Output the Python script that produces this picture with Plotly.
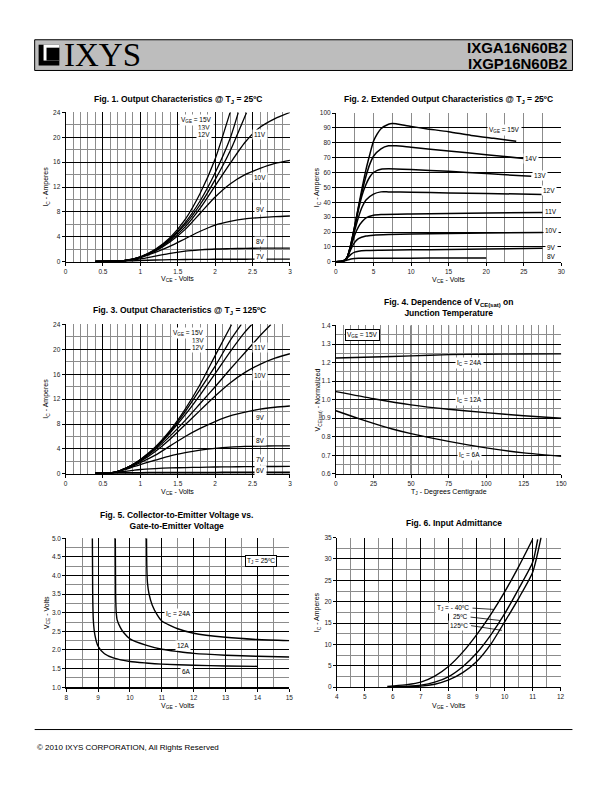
import plotly.graph_objects as go

# ---------------- DATA ----------------
# Fig.1 Output characteristics @ Tj=25C  (VCE volts -> IC amps)
F1_X = [0.4, 0.8, 1.0, 1.2, 1.4, 1.6, 1.8, 2.0, 2.2, 2.4, 2.6, 2.8, 3.0]
F1_15V_X = [0.4, 0.8, 1.0, 1.2, 1.4, 1.6, 1.8, 2.0, 2.2]
F1_15V_Y = [0.05, 0.2, 0.8, 2.0, 3.9, 6.8, 11.0, 16.5, 24.0]
F1_13V_X = [0.4, 0.8, 1.0, 1.2, 1.4, 1.6, 1.8, 2.0, 2.2, 2.31]
F1_13V_Y = [0.05, 0.2, 0.78, 1.9, 3.7, 6.3, 9.8, 14.3, 19.8, 24.0]
F1_12V_X = [0.4, 0.8, 1.0, 1.2, 1.4, 1.6, 1.8, 2.0, 2.2, 2.42]
F1_12V_Y = [0.05, 0.2, 0.76, 1.85, 3.6, 6.0, 9.2, 13.2, 17.8, 24.0]
F1_11V_Y = [0.05, 0.2, 0.75, 1.8, 3.4, 5.6, 8.6, 12.2, 15.8, 19.2, 21.6, 23.0, 24.0]
F1_10V_Y = [0.05, 0.2, 0.72, 1.7, 3.2, 5.2, 7.8, 10.4, 12.5, 14.0, 15.0, 15.8, 16.3]
F1_9V_Y = [0.05, 0.2, 0.68, 1.5, 2.5, 3.7, 4.9, 5.9, 6.5, 6.9, 7.1, 7.25, 7.35]
F1_8V_Y = [0.05, 0.15, 0.45, 0.9, 1.35, 1.7, 1.9, 2.05, 2.1, 2.15, 2.18, 2.2, 2.2]
F1_7V_Y = [0.05, 0.1, 0.2, 0.28, 0.33, 0.36, 0.38, 0.4, 0.4, 0.4, 0.42, 0.42, 0.42]

# Fig.2 Extended output characteristics @ Tj=25C
F2_15V_X = [0, 1, 1.5, 2, 2.5, 3, 3.5, 4, 4.5, 5, 5.5, 6, 7, 7.5, 8, 10, 12, 15, 18, 21, 24]
F2_15V_Y = [0, 0.5, 3, 12, 24, 37, 50, 62, 72, 81, 86, 89.5, 92.5, 93, 92.8, 91, 89.5, 87.5, 85, 83, 81]
F2_14V_X = [0, 1, 1.5, 2, 2.5, 3, 3.5, 4, 4.5, 5, 6, 7, 8, 10, 15, 20, 25]
F2_14V_Y = [0, 0.5, 3, 12, 24, 36.5, 47.5, 57.5, 65.5, 71, 76, 78, 78, 77, 74.5, 72, 69.5]
F2_13V_X = [0, 1, 1.5, 2, 2.5, 3, 3.5, 4, 4.5, 5, 5.5, 6, 7, 10, 15, 20, 26]
F2_13V_Y = [0, 0.5, 3, 11.5, 23, 35, 45, 52, 57, 60, 61.5, 62.3, 62.5, 62, 60.8, 59.3, 57.5]
F2_12V_X = [0, 1, 1.5, 2, 2.5, 3, 3.5, 4, 5, 6, 7, 10, 15, 20, 27.5]
F2_12V_Y = [0, 0.5, 3, 11, 21, 30, 37, 41.5, 45.5, 47, 47, 46.8, 46.3, 45.9, 45.3]
F2_11V_X = [0, 1, 1.5, 2, 2.5, 3, 3.5, 4, 5, 6, 10, 15, 20, 27.5]
F2_11V_Y = [0, 0.5, 3, 10, 18, 23.5, 27, 29.5, 31.3, 31.8, 32.2, 32.5, 32.8, 33.2]
F2_10V_X = [0, 1, 1.5, 2, 2.5, 3, 4, 5, 7, 10, 15, 20, 27.5]
F2_10V_Y = [0, 0.5, 3, 8.5, 13, 15.5, 17.3, 17.9, 18.3, 18.6, 19, 19.3, 19.7]
F2_9V_X = [0, 1, 1.5, 2, 2.5, 3, 4, 6, 10, 15, 20, 27.5]
F2_9V_Y = [0, 0.5, 2.5, 5, 6.5, 7.1, 7.5, 7.7, 8.0, 8.3, 8.6, 9.0]
F2_8V_X = [0, 1, 1.5, 2, 2.5, 3, 5, 10, 15, 20]
F2_8V_Y = [0, 0.3, 1.2, 1.9, 2.2, 2.3, 2.4, 2.4, 2.5, 2.5]

# Fig.3 Output characteristics @ Tj=125C
F3_X = [0.4, 0.6, 0.7, 0.8, 0.9, 1.0, 1.2, 1.4, 1.6, 1.8, 2.0, 2.2, 2.4, 2.6, 2.8, 3.0]
F3_15V_X = [0.4, 0.6, 0.7, 0.8, 0.9, 1.0, 1.2, 1.4, 1.6, 1.8, 2.0, 2.22]
F3_15V_Y = [0.1, 0.15, 0.4, 0.9, 1.5, 2.3, 4.3, 7.0, 10.4, 14.4, 19.0, 24.0]
F3_13V_X = [0.4, 0.6, 0.7, 0.8, 0.9, 1.0, 1.2, 1.4, 1.6, 1.8, 2.0, 2.2, 2.35]
F3_13V_Y = [0.1, 0.15, 0.4, 0.9, 1.5, 2.25, 4.2, 6.8, 10.0, 13.6, 17.3, 21.4, 24.0]
F3_12V_X = [0.4, 0.6, 0.7, 0.8, 0.9, 1.0, 1.2, 1.4, 1.6, 1.8, 2.0, 2.2, 2.4, 2.49]
F3_12V_Y = [0.1, 0.15, 0.4, 0.9, 1.5, 2.2, 4.1, 6.6, 9.5, 12.7, 16.1, 19.6, 22.8, 24.0]
F3_11V_X = [0.4, 0.6, 0.7, 0.8, 0.9, 1.0, 1.2, 1.4, 1.6, 1.8, 2.0, 2.2, 2.4, 2.6, 2.745]
F3_11V_Y = [0.1, 0.15, 0.4, 0.88, 1.45, 2.1, 3.9, 6.1, 8.6, 11.3, 14.0, 16.8, 19.5, 22.2, 24.0]
F3_10V_Y = [0.1, 0.15, 0.4, 0.85, 1.4, 2.0, 3.6, 5.6, 7.9, 10.2, 12.5, 14.6, 16.3, 17.6, 18.6, 19.3]
F3_9V_Y = [0.1, 0.15, 0.38, 0.8, 1.25, 1.8, 3.0, 4.5, 6.0, 7.3, 8.4, 9.3, 9.9, 10.4, 10.7, 10.9]
F3_8V_Y = [0.1, 0.15, 0.35, 0.7, 1.1, 1.5, 2.2, 2.9, 3.4, 3.8, 4.1, 4.3, 4.4, 4.45, 4.5, 4.5]
F3_7V_Y = [0.1, 0.15, 0.25, 0.4, 0.55, 0.7, 0.85, 0.95, 1.0, 1.05, 1.1, 1.12, 1.15, 1.17, 1.18, 1.2]
F3_6V_Y = [0.1, 0.1, 0.12, 0.13, 0.14, 0.15, 0.16, 0.17, 0.18, 0.18, 0.19, 0.2, 0.2, 0.2, 0.2, 0.2]

# Fig.4 VCE(sat) normalized vs junction temperature
F4_24A_X = [0, 25, 50, 75, 100, 125, 150]
F4_24A_Y = [1.225, 1.23, 1.236, 1.243, 1.245, 1.246, 1.247]
F4_12A_X = [0, 25, 50, 75, 100, 125, 150]
F4_12A_Y = [1.043, 1.005, 0.972, 0.948, 0.93, 0.913, 0.9]
F4_6A_X = [0, 12.5, 25, 37.5, 50, 75, 100, 125, 150]
F4_6A_Y = [0.94, 0.905, 0.872, 0.842, 0.817, 0.775, 0.74, 0.713, 0.695]

# Fig.5 VCE vs VGE
F5_24A_X = [10.52, 10.53, 10.55, 10.6, 10.7, 10.85, 11, 11.5, 12, 13, 14, 15]
F5_24A_Y = [5.0, 4.2, 3.8, 3.5, 3.2, 2.95, 2.78, 2.57, 2.45, 2.34, 2.28, 2.25]
F5_12A_X = [9.54, 9.55, 9.57, 9.6, 9.7, 9.8, 10, 10.5, 11, 11.5, 12, 13, 14, 15]
F5_12A_Y = [5.0, 3.5, 3.0, 2.8, 2.6, 2.47, 2.3, 2.13, 2.02, 1.96, 1.91, 1.86, 1.83, 1.81]
F5_6A_X = [8.82, 8.83, 8.85, 8.9, 9.0, 9.2, 9.5, 10, 10.5, 11, 12, 13, 14]
F5_6A_Y = [5.0, 3.5, 2.8, 2.4, 2.1, 1.9, 1.78, 1.69, 1.65, 1.62, 1.59, 1.57, 1.56]

# Fig.6 Input admittance
F6_M40_X = [5.8, 6, 6.5, 7, 7.5, 8, 8.5, 9, 9.5, 10, 10.5, 11]
F6_M40_Y = [0.2, 0.3, 0.6, 1.2, 2.6, 4.9, 8.2, 12.3, 17.0, 22.3, 28.2, 34.6]
F6_25_X = [6, 6.5, 7, 7.5, 8, 8.5, 9, 9.5, 10, 10.5, 11, 11.18]
F6_25_Y = [0.1, 0.25, 0.5, 1.2, 2.5, 4.8, 8.0, 12.2, 17.2, 23.0, 29.2, 34.6]
F6_125_X = [6.3, 7, 7.5, 8, 8.5, 9, 9.5, 10, 10.5, 11, 11.3]
F6_125_Y = [0.1, 0.25, 0.7, 1.7, 3.4, 6.0, 10.0, 15.3, 20.8, 26.9, 35.0]

# ---------------- LAYOUT HELPERS ----------------
OFF = 8                      # browser body margin
W, H = 612 - OFF, 792 - OFF
def px(x): return (x - OFF) / W
def py(y): return 1 - (y - OFF) / H

FONT = 'Liberation Sans, Arial, sans-serif'
TFONT = 'Liberation Sans Narrow, Arial Narrow, Liberation Sans, Arial, sans-serif'
MINOR = '#8c8c8c'
fig = go.Figure()

def axid(n):
    return '' if n == 1 else str(n)

def add_curve(n, xs, ys, width=1.3):
    fig.add_trace(go.Scatter(x=xs, y=ys, mode='lines',
                             line=dict(color='black', width=width, shape='spline', smoothing=0.6),
                             xaxis='x' + axid(n), yaxis='y' + axid(n),
                             showlegend=False, hoverinfo='skip'))

def axis(domain, rng, dtick, major_color, minor_dtick=None, minor_color=MINOR, fmt=None, anchor=None):
    d = dict(domain=domain, range=rng, dtick=dtick, tick0=0, showgrid=True, gridcolor=major_color,
             gridwidth=1, zeroline=False, showline=True, linecolor='black', linewidth=1,
             ticks='outside', ticklen=3, tickcolor='black', tickwidth=1,
             tickfont=dict(size=6.5, family=FONT, color='#222'), fixedrange=True, anchor=anchor)
    if minor_dtick:
        d['minor'] = dict(dtick=minor_dtick, showgrid=True, gridcolor=minor_color, gridwidth=1)
    if fmt:
        d['tickformat'] = fmt
    return d

# domains (page pixels -> paper)
D = {
    1: ((64.3, 291.7), (109.3, 260)),
    2: ((338.3, 566.7), (110, 260)),
    3: ((64.3, 291.7), (323.3, 474)),
    4: ((338.3, 566.7), (324.3, 474)),
    5: ((65, 291), (539, 689.3)),
    6: ((339.3, 566), (538.3, 689.3)),
}
def xd(n): return [px(D[n][0][0]), px(D[n][0][1])]
def yd(n): return [py(D[n][1][1]), py(D[n][1][0])]

lay = {}
lay['xaxis'] = axis(xd(1), [0, 3], 0.5, 'black', 0.1, anchor='y')
lay['yaxis'] = axis(yd(1), [0, 24], 4, 'black', 2, anchor='x')
lay['xaxis2'] = axis(xd(2), [0, 30], 5, MINOR, 2.5, anchor='y2')
lay['yaxis2'] = axis(yd(2), [0, 100], 10, 'black', anchor='x2')
lay['xaxis3'] = axis(xd(3), [0, 3], 0.5, 'black', 0.1, anchor='y3')
lay['yaxis3'] = axis(yd(3), [0, 24], 4, 'black', 2, anchor='x3')
lay['xaxis4'] = axis(xd(4), [0, 150], 25, MINOR, 5, anchor='y4')
lay['yaxis4'] = axis(yd(4), [0.6, 1.4], 0.1, 'black', 0.05, fmt='.1f', anchor='x4')
lay['xaxis5'] = axis(xd(5), [8, 15], 1, 'black', 0.5, anchor='y5')
lay['yaxis5'] = axis(yd(5), [1, 5], 0.5, 'black', 0.25, fmt='.1f', anchor='x5')
lay['xaxis6'] = axis(xd(6), [4, 12], 1, 'black', 0.5, anchor='y6')
lay['yaxis6'] = axis(yd(6), [0, 35], 5, 'black', 2.5, anchor='x6')
lay['xaxis5']['linewidth'] = 2

# ---------------- CURVES ----------------
add_curve(1, F1_15V_X, F1_15V_Y)
add_curve(1, F1_13V_X, F1_13V_Y)
add_curve(1, F1_12V_X, F1_12V_Y)
for ys in [F1_11V_Y, F1_10V_Y, F1_9V_Y, F1_8V_Y, F1_7V_Y]:
    add_curve(1, F1_X, ys)

for xs, ys in [(F2_15V_X, F2_15V_Y), (F2_14V_X, F2_14V_Y), (F2_13V_X, F2_13V_Y), (F2_12V_X, F2_12V_Y),
               (F2_11V_X, F2_11V_Y), (F2_10V_X, F2_10V_Y), (F2_9V_X, F2_9V_Y), (F2_8V_X, F2_8V_Y)]:
    add_curve(2, xs, ys, 1.5)

add_curve(3, F3_15V_X, F3_15V_Y)
add_curve(3, F3_13V_X, F3_13V_Y)
add_curve(3, F3_12V_X, F3_12V_Y)
add_curve(3, F3_11V_X, F3_11V_Y)
for ys in [F3_10V_Y, F3_9V_Y, F3_8V_Y, F3_7V_Y]:
    add_curve(3, F3_X, ys)
add_curve(3, F3_X, F3_6V_Y, 2)

add_curve(4, F4_24A_X, F4_24A_Y, 1.4)
add_curve(4, F4_12A_X, F4_12A_Y, 1.4)
add_curve(4, F4_6A_X, F4_6A_Y, 1.4)

add_curve(5, F5_24A_X, F5_24A_Y, 1.4)
add_curve(5, F5_12A_X, F5_12A_Y, 1.4)
add_curve(5, F5_6A_X, F5_6A_Y, 1.4)

add_curve(6, F6_M40_X, F6_M40_Y, 1.4)
add_curve(6, F6_25_X, F6_25_Y, 1.4)
add_curve(6, F6_125_X, F6_125_Y, 1.4)

# ---------------- SHAPES ----------------
shapes = []
# header bar
shapes.append(dict(type='rect', xref='paper', yref='paper', x0=px(33), x1=px(578), y0=py(67), y1=py(36),
                   fillcolor='#bdbdbd', line=dict(color='black', width=1), layer='below'))
# logo icon
shapes.append(dict(type='rect', xref='paper', yref='paper', x0=px(37), x1=px(58), y0=py(62), y1=py(41),
                   fillcolor='black', line=dict(width=0)))
shapes.append(dict(type='rect', xref='paper', yref='paper', x0=px(42), x1=px(58), y0=py(57), y1=py(41),
                   fillcolor='white', line=dict(width=0)))
shapes.append(dict(type='rect', xref='paper', yref='paper', x0=px(45), x1=px(58), y0=py(57), y1=py(44),
                   fillcolor='black', line=dict(width=0)))
# footer rule
shapes.append(dict(type='line', xref='paper', yref='paper', x0=px(33), x1=px(578), y0=py(732), y1=py(732),
                   line=dict(color='black', width=1)))
# Fig.4 heavy vertical grid lines
for v in [50, 75]:
    shapes.append(dict(type='line', xref='x4', yref='y4 domain', x0=v, x1=v, y0=0, y1=1,
                       line=dict(color='black', width=1), layer='below'))
# Fig.6 leader lines
for (x0, y0, x1, y1) in [(8.85, 18.5, 9.6, 18.2), (8.78, 16.4, 9.85, 15.6), (8.8, 14.4, 9.9, 13.3)]:
    shapes.append(dict(type='line', xref='x6', yref='y6', x0=x0, y0=y0, x1=x1, y1=y1,
                       line=dict(color='black', width=0.8)))

# ---------------- TEXT ----------------
ann = []
def A(text, x, y, xref='paper', yref='paper', size=6.5, bold=False, xanchor='center', yanchor='middle',
      bg=None, border=None, align='center', family=FONT, color='black', textangle=0):
    a = dict(text=('<b>%s</b>' % text) if bold else text, x=x, y=y, xref=xref, yref=yref, showarrow=False,
             font=dict(size=size, family=family, color=color), xanchor=xanchor, yanchor=yanchor,
             align=align, textangle=textangle)
    if bg:
        a['bgcolor'] = bg
        a['borderpad'] = 1
    if border:
        a['bordercolor'] = border
        a['borderwidth'] = 1
    ann.append(a)

# header
A('IXYS', px(61), py(51), size=33, xanchor='left', family='Liberation Serif, DejaVu Serif, serif')
A('IXGA16N60B2', px(575), py(44), size=15, bold=True, xanchor='right')
A('IXGP16N60B2', px(575), py(60), size=15, bold=True, xanchor='right')
A('© 2010 IXYS CORPORATION, All Rights Reserved', px(33), py(750), size=8, xanchor='left')

# titles
TS = 8.5
A('Fig. 1. Output Characteristics @ T<sub>J</sub> = 25ºC', px(178), py(96), size=TS, bold=True, family=TFONT)
A('Fig. 2. Extended Output Characteristics @ T<sub>J</sub> = 25ºC', px(452), py(96), size=TS, bold=True, family=TFONT)
A('Fig. 3. Output Characteristics @ T<sub>J</sub> = 125ºC', px(180), py(309), size=TS, bold=True, family=TFONT)
A('Fig. 4. Dependence of V<sub>CE(sat)</sub> on<br>Junction Temperature', px(452), py(306), size=TS, bold=True, family=TFONT)
A('Fig. 5. Collector-to-Emitter Voltage vs.<br>Gate-to-Emitter Voltage', px(177), py(521), size=TS, bold=True, family=TFONT)
A('Fig. 6. Input Admittance', px(458), py(524), size=TS, bold=True, family=TFONT)

# axis titles
for n, (xt, yt, xpos, ypos) in {
    1: ('V<sub>CE</sub> - Volts', 'I<sub>C</sub> - Amperes', 277, 45),
    2: ('V<sub>CE</sub> - Volts', 'I<sub>C</sub> - Amperes', 278, 320),
    3: ('V<sub>CE</sub> - Volts', 'I<sub>C</sub> - Amperes', 492, 45),
    4: ('T<sub>J</sub> - Degrees Centigrade', 'V<sub>CE(sat)</sub> - Normalized', 492, 320),
    5: ('V<sub>GE</sub> - Volts', 'V<sub>CE</sub> - Volts', 708, 45),
    6: ('V<sub>GE</sub> - Volts', 'I<sub>C</sub> - Amperes', 708, 320),
}.items():
    xc = (D[n][0][0] + D[n][0][1]) / 2
    yc = (D[n][1][0] + D[n][1][1]) / 2
    A(xt, px(xc), py(xpos), size=7)
    A(yt, px(ypos), py(yc), size=7, textangle=-90)

# Fig.1 labels
A('V<sub>GE</sub> = 15V', 1.99, 22.8, 'x', 'y', xanchor='right', bg='white')
A('13V', 1.96, 21.6, 'x', 'y', xanchor='right', bg='white')
A('12V', 1.96, 20.4, 'x', 'y', xanchor='right', bg='white')
for t, yv in [('11V', 20.4), ('10V', 13.6), ('9V', 8.4), ('8V', 3.3), ('7V', 0.9)]:
    A(t, 2.6, yv, 'x', 'y', bg='white')

# Fig.2 labels
A('V<sub>GE</sub> = 15V', 22.4, 88.9, 'x2', 'y2', bg='white')
for t, xv, yv in [('14V', 26.0, 69.5), ('13V', 27.2, 57.8), ('12V', 28.3, 47.8), ('11V', 28.6, 34),
                  ('10V', 28.6, 20.7), ('9V', 28.7, 9.8), ('8V', 28.7, 3.3)]:
    A(t, xv, yv, 'x2', 'y2', bg='white')

# Fig.3 labels
A('V<sub>GE</sub> = 15V', 1.88, 22.7, 'x3', 'y3', xanchor='right', bg='white')
A('13V', 1.88, 21.5, 'x3', 'y3', xanchor='right', bg='white')
A('12V', 1.88, 20.3, 'x3', 'y3', xanchor='right', bg='white')
for t, yv in [('11V', 20.3), ('10V', 15.8), ('9V', 9.1), ('8V', 5.4), ('7V', 2.3), ('6V', 0.5)]:
    A(t, 2.6, yv, 'x3', 'y3', bg='white')

# Fig.4 labels
A('V<sub>GE</sub> = 15V', 17.5, 1.35, 'x4', 'y4', bg='white', border='black')
for t, yv in [('I<sub>C</sub> = 24A', 1.2), ('I<sub>C</sub> = 12A', 1.0), ('I<sub>C</sub> = 6A', 0.7)]:
    A(t, 89, yv, 'x4', 'y4', bg='white')

# Fig.5 labels
A('T<sub>J</sub> = 25ºC', 14.1, 4.4, 'x5', 'y5', bg='white', border='black')
A('I<sub>C</sub> = 24A', 11.53, 2.96, 'x5', 'y5', bg='white')
A('12A', 11.65, 2.12, 'x5', 'y5', bg='white')
A('6A', 11.78, 1.43, 'x5', 'y5', bg='white')

# Fig.6 labels
A('T<sub>J</sub> = - 40ºC', 8.81, 18.6, 'x6', 'y6', xanchor='right', bg='white')
A('25ºC', 8.75, 16.5, 'x6', 'y6', xanchor='right', bg='white')
A('125ºC', 8.75, 14.5, 'x6', 'y6', xanchor='right', bg='white')

fig.update_layout(width=W, height=H, margin=dict(l=0, r=0, t=0, b=0), paper_bgcolor='white',
                  plot_bgcolor='white', showlegend=False, shapes=shapes, annotations=ann,
                  font=dict(family=FONT), **lay)
fig.write_html('out.html', config={'displayModeBar': False})
